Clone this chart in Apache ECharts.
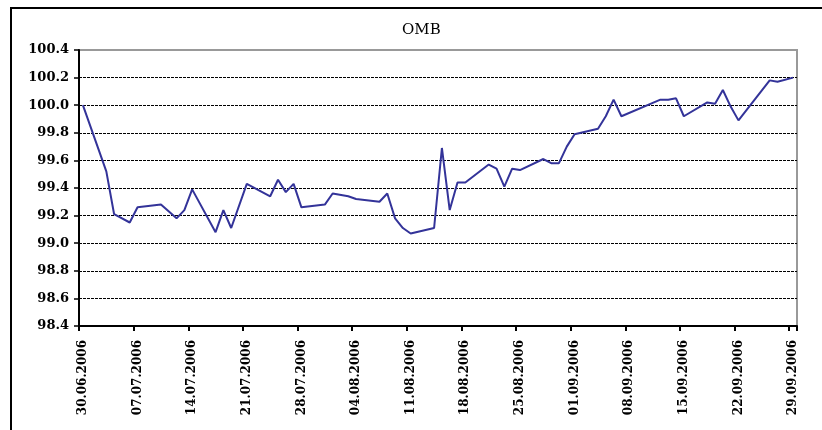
<!DOCTYPE html>
<html>
<head>
<meta charset="utf-8">
<script src="https://cdn.jsdelivr.net/npm/echarts@6/dist/echarts.min.js"></script>
<style>
  html, body { margin: 0; padding: 0; background: #fff; }
  #chart { width: 822px; height: 430px; }
</style>
</head>
<body>
<div id="chart"></div>
<script>
// OMB price, trading days only (gaps are bridged by the line)
const obsDates = [
  '30.06.2006', '03.07.2006', '04.07.2006', '06.07.2006', '07.07.2006',
  '10.07.2006', '12.07.2006', '13.07.2006', '14.07.2006', '17.07.2006',
  '18.07.2006', '19.07.2006', '21.07.2006', '24.07.2006', '25.07.2006',
  '26.07.2006', '27.07.2006', '28.07.2006', '31.07.2006', '01.08.2006',
  '03.08.2006', '04.08.2006', '07.08.2006', '08.08.2006', '09.08.2006',
  '10.08.2006', '11.08.2006', '14.08.2006', '15.08.2006', '16.08.2006',
  '17.08.2006', '18.08.2006', '21.08.2006', '22.08.2006', '23.08.2006',
  '24.08.2006', '25.08.2006', '28.08.2006', '29.08.2006', '30.08.2006',
  '31.08.2006', '01.09.2006', '04.09.2006', '05.09.2006', '06.09.2006',
  '07.09.2006', '12.09.2006', '13.09.2006', '14.09.2006', '15.09.2006',
  '18.09.2006', '19.09.2006', '20.09.2006', '21.09.2006', '22.09.2006',
  '26.09.2006', '27.09.2006', '29.09.2006'
];
const obsValues = [
  100.00, 99.52, 99.21, 99.15, 99.26,
  99.28, 99.18, 99.24, 99.39, 99.08,
  99.24, 99.11, 99.43, 99.34, 99.46,
  99.37, 99.43, 99.26, 99.28, 99.36,
  99.34, 99.32, 99.30, 99.36, 99.18,
  99.11, 99.07, 99.11, 99.69, 99.24,
  99.44, 99.44, 99.57, 99.54, 99.41,
  99.54, 99.53, 99.61, 99.58, 99.58,
  99.70, 99.79, 99.83, 99.92, 100.04,
  99.92, 100.04, 100.04, 100.05, 99.92,
  100.02, 100.01, 100.11, 99.99, 99.89,
  100.18, 100.17, 100.20
];

// Weekly labels on the date axis
const tickLabels = [
  '30.06.2006', '07.07.2006', '14.07.2006', '21.07.2006', '28.07.2006',
  '04.08.2006', '11.08.2006', '18.08.2006', '25.08.2006', '01.09.2006',
  '08.09.2006', '15.09.2006', '22.09.2006', '29.09.2006'
];

const yTicks = { min: 98.4, max: 100.4, step: 0.2 };

// Calendar of every day between the first and last observation
function parseDate(s) {
  const [d, m, y] = s.split('.').map(Number);
  return Date.UTC(y, m - 1, d);
}
function fmtDate(t) {
  const dt = new Date(t);
  const dd = String(dt.getUTCDate()).padStart(2, '0');
  const mm = String(dt.getUTCMonth() + 1).padStart(2, '0');
  return dd + '.' + mm + '.' + dt.getUTCFullYear();
}
const DAY = 86400000;
const start = parseDate(obsDates[0]);
const end = parseDate(obsDates[obsDates.length - 1]);
const days = [];
for (let t = start; t <= end; t += DAY) days.push(fmtDate(t));

const valueByDate = {};
obsDates.forEach((d, i) => { valueByDate[d] = obsValues[i]; });
const seriesData = days.map(d => (d in valueByDate ? valueByDate[d] : null));

const labelSet = new Set(tickLabels);
const showTick = (idx, val) => labelSet.has(days[idx]);

const chart = echarts.init(document.getElementById('chart'), null, { renderer: 'canvas' });

const splitColors = [];
for (let v = yTicks.min; v <= yTicks.max + 1e-9; v += yTicks.step) splitColors.push('#000');
splitColors[splitColors.length - 1] = '#999';

chart.setOption({
  animation: false,
  backgroundColor: '#fff',
  title: {
    text: 'OMB',
    left: 402,
    top: 23,
    padding: 0,
    textStyle: { fontFamily: 'DejaVu Serif', fontSize: 15, fontWeight: 'normal', color: '#000' }
  },
  graphic: [{
    type: 'rect',
    shape: { x: 11, y: 8, width: 900, height: 500 },
    style: { fill: 'none', stroke: '#000', lineWidth: 2 },
    silent: true,
    z: 100
  }],
  grid: {
    left: 79, right: 25, top: 50, bottom: 104,
    show: true,
    borderColor: '#999',
    borderWidth: 2,
    backgroundColor: 'transparent'
  },
  xAxis: {
    type: 'category',
    data: days,
    boundaryGap: true,
    axisLine: { lineStyle: { color: '#000', width: 2 } },
    axisTick: { show: true, interval: showTick, alignWithLabel: false, length: 5, lineStyle: { color: '#000', width: 2 } },
    axisLabel: {
      interval: showTick,
      rotate: 90,
      margin: 14,
      fontFamily: 'DejaVu Serif',
      fontWeight: 'bold',
      fontSize: 12,
      color: '#000'
    },
    splitLine: { show: false }
  },
  yAxis: {
    type: 'value',
    min: yTicks.min,
    max: yTicks.max,
    interval: yTicks.step,
    axisLine: { show: true, lineStyle: { color: '#000', width: 2 } },
    axisTick: { show: true, length: 5, lineStyle: { color: '#000', width: 1.5 } },
    axisLabel: {
      margin: 10,
      formatter: v => v.toFixed(1),
      fontFamily: 'DejaVu Serif',
      fontWeight: 'bold',
      fontSize: 13,
      color: '#000'
    },
    splitLine: { show: true, lineStyle: { color: splitColors, type: [3, 1], width: 1.2 } }
  },
  series: [{
    name: 'OMB',
    type: 'line',
    data: seriesData,
    connectNulls: true,
    symbol: 'none',
    lineStyle: { color: '#333399', width: 2 }
  }]
});
</script>
</body>
</html>
